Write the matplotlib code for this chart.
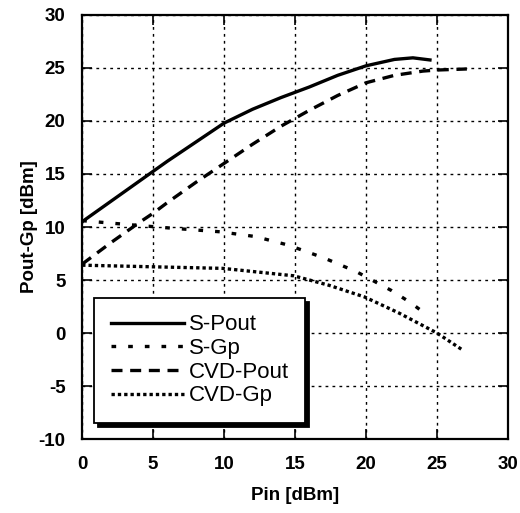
import matplotlib.pyplot as plt

plt.rcParams['font.family'] = ['Liberation Sans', 'DejaVu Sans']
plt.rcParams['axes.unicode_minus'] = False

s_pout_x = [0, 2, 4, 6, 8, 10, 12, 14, 16, 18, 20, 22, 23.3, 24.5]
s_pout_y = [10.5, 12.4, 14.3, 16.2, 18.0, 19.8, 21.1, 22.2, 23.2, 24.3, 25.2, 25.8, 25.95, 25.75]

s_gp_x = [0, 1.3, 3.5, 6.2, 9.7, 12.2, 14.5, 17.0, 19.3, 21.8, 23.1, 24.3]
s_gp_y = [10.6, 10.45, 10.2, 9.9, 9.55, 9.1, 8.3, 7.1, 5.8, 4.0, 2.9, 1.7]

cvd_pout_x = [0, 2, 4, 5, 6, 8, 10, 12, 14, 16, 18, 20, 22, 24, 25, 27.1]
cvd_pout_y = [6.5, 8.5, 10.4, 11.3, 12.3, 14.2, 16.0, 17.8, 19.5, 21.0, 22.4, 23.6, 24.3, 24.7, 24.8, 24.9]

cvd_gp_x = [0, 4.9, 9.9, 14.9, 17.4, 19.9, 22.3, 25.0, 26.8]
cvd_gp_y = [6.4, 6.25, 6.1, 5.4, 4.5, 3.4, 1.9, 0.0, -1.6]

xticks = [0, 5, 10, 15, 20, 25, 30]
yticks = [-10, -5, 0, 5, 10, 15, 20, 25, 30]

fig = plt.figure(figsize=(5.2, 5.13), dpi=100)
ax = fig.add_axes([0.158, 0.144, 0.819, 0.827])

ax.plot(s_pout_x, s_pout_y, color='black', lw=2.4, ls='-', label='S-Pout')
ax.plot(s_gp_x, s_gp_y, color='black', lw=2.4, ls=(0, (1.4, 3.6)), label='S-Gp')
ax.plot(cvd_pout_x, cvd_pout_y, color='black', lw=2.4, ls=(0, (3.3, 2.3)), label='CVD-Pout')
ax.plot(cvd_gp_x, cvd_gp_y, color='black', lw=2.4, ls=(0, (1, 0.9)), label='CVD-Gp')

ax.set_xlim(0, 30)
ax.set_ylim(-10, 30)
ax.set_xticks(xticks)
ax.set_yticks(yticks)
ax.grid(True, color='black', ls=(0, (2, 3)), lw=1)
ax.tick_params(direction='in', length=7, width=1.2, top=True, right=True,
               labelsize=13.5, pad=12)
for lab in ax.get_xticklabels() + ax.get_yticklabels():
    lab.set_fontweight('bold')
for sp in ax.spines.values():
    sp.set_linewidth(1.6)

ax.set_xlabel('Pin [dBm]', fontsize=13.5, fontweight='bold', labelpad=10)
ax.set_ylabel('Pout-Gp [dBm]', fontsize=13.5, fontweight='bold', labelpad=0)

leg = ax.legend(loc='lower left', bbox_to_anchor=(0.028, 0.038), borderaxespad=0,
                fontsize=16, handlelength=3.3, handletextpad=0.2, labelspacing=0.12,
                borderpad=0.75, fancybox=False, framealpha=1, edgecolor='black',
                shadow={'color': 'black', 'alpha': 1, 'ox': 3, 'oy': -3})
leg.get_frame().set_linewidth(1.3)

plt.savefig('out.png', dpi=100)
